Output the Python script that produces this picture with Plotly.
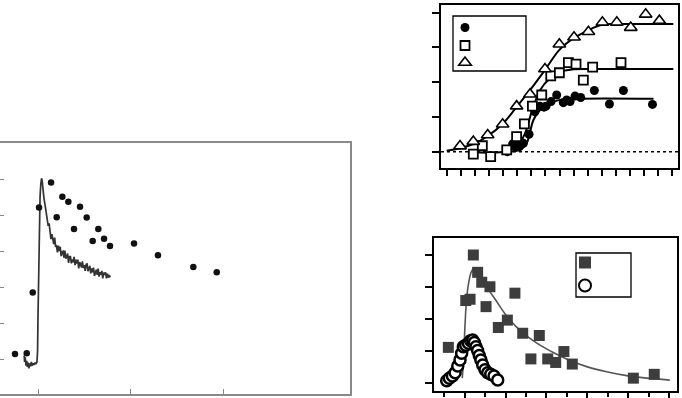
import plotly.graph_objects as go

# ---------------- Panel A (left): dots + noisy trace ----------------
a_dot_x = [-2.49, -1.22, -0.57, 0.11, 1.41, 2.02, 2.63, 3.28, 3.89, 4.54, 5.26,
           5.91, 6.52, 7.14, 7.78, 10.38, 12.97, 16.79, 19.32]
a_dot_y = [0.14, 0.16, 1.85, 4.21, 4.90, 3.94, 4.51, 4.37, 3.61, 4.23, 3.93,
           3.28, 3.61, 3.34, 3.14, 3.21, 2.88, 2.56, 2.41]

a_trace_x = [-1.50, -1.45, -1.38, -1.30, -1.22, -1.15, -1.05, -0.98, -0.90, -0.80,
             -0.72, -0.62, -0.52, -0.42, -0.32, -0.22, -0.12, -0.05, 0.00, 0.08,
             0.15, 0.22, 0.30, 0.38, 0.45, 0.55, 0.65, 0.75, 0.85, 0.92,
             1.0, 1.1, 1.2, 1.3, 1.4, 1.5, 1.6, 1.7, 1.8, 1.9,
             2.0, 2.1, 2.2, 2.3, 2.4, 2.5, 2.6, 2.7, 2.8, 2.9,
             3.0, 3.1, 3.2, 3.3, 3.4, 3.5, 3.6, 3.7, 3.8, 3.9,
             4.0, 4.1, 4.2, 4.3, 4.4, 4.5, 4.6, 4.7, 4.8, 4.9,
             5.0, 5.1, 5.2, 5.3, 5.4, 5.5, 5.6, 5.7, 5.8, 5.9,
             6.0, 6.1, 6.2, 6.3, 6.4, 6.5, 6.6, 6.7, 6.8, 6.9,
             7.0, 7.1, 7.2, 7.3, 7.4, 7.5, 7.6, 7.7, 7.8]
a_trace_y = [0.10, -0.08, 0.05, -0.18, -0.05, -0.22, -0.10, -0.26, -0.12, -0.20,
             -0.08, -0.18, -0.12, -0.16, -0.10, -0.14, -0.08, 0.20, 1.20, 2.60,
             3.80, 4.50, 4.85, 5.02, 4.95, 4.65, 4.45, 4.30, 4.12, 4.02,
             3.97, 3.70, 3.77, 3.55, 3.33, 3.47, 3.37, 3.19, 3.37, 3.12,
             3.14, 2.96, 3.15, 3.00, 3.12, 2.86, 2.97, 2.99, 2.82, 3.01,
             2.79, 2.83, 2.93, 2.67, 2.84, 2.86, 2.66, 2.77, 2.69, 2.84,
             2.61, 2.76, 2.65, 2.76, 2.52, 2.69, 2.64, 2.54, 2.71, 2.53,
             2.61, 2.45, 2.63, 2.64, 2.44, 2.50, 2.59, 2.38, 2.52, 2.41,
             2.54, 2.31, 2.45, 2.48, 2.34, 2.51, 2.29, 2.41, 2.34, 2.45,
             2.24, 2.40, 2.34, 2.41, 2.24, 2.37, 2.26, 2.33, 2.27]
a_xticks = [0, 10, 20]
a_yticks = [0, 1, 2, 3, 4, 5]

# ---------------- Panel B (top right): three sigmoid series ----------------
b_circ_x = [4.30, 4.68, 4.85, 5.15, 5.20, 5.44, 5.84, 6.26, 6.62, 6.90, 7.04, 7.40,
            7.80, 8.27, 8.51, 8.75, 9.10, 9.50, 10.47, 11.54, 12.53, 14.59]
b_circ_y = [0.00, 0.22, 0.14, 0.14, 0.29, 0.24, 0.50, 1.15, 1.31, 1.28, 1.31, 1.44,
            1.63, 1.41, 1.49, 1.44, 1.60, 1.56, 1.76, 1.37, 1.76, 1.36]
b_sq_x = [1.89, 2.53, 3.12, 4.26, 4.96, 5.51, 6.08, 6.74, 7.38, 7.99, 8.63, 9.17,
          9.69, 10.35, 12.36]
b_sq_y = [-0.07, 0.17, -0.14, 0.05, 0.43, 0.80, 1.31, 1.63, 2.18, 2.27, 2.56, 2.52,
          2.06, 2.43, 2.56]
b_tri_x = [0.95, 1.89, 2.91, 3.97, 4.96, 5.91, 6.97, 7.99, 9.03, 10.05, 11.04, 12.06,
           13.05, 14.11, 15.08]
b_tri_y = [0.16, 0.29, 0.48, 0.79, 1.31, 1.65, 2.38, 3.09, 3.29, 3.45, 3.72, 3.72,
           3.57, 3.95, 3.77]

b_fit_tri_x = [0.00, 0.95, 1.89, 2.84, 4.02, 4.96, 5.91, 6.97, 7.99, 8.98, 9.93, 10.99, 12.29, 16.07]
b_fit_tri_y = [0.03, 0.10, 0.22, 0.43, 0.82, 1.29, 1.77, 2.35, 2.93, 3.26, 3.47, 3.65, 3.67, 3.67]
b_fit_sq_x = [1.89, 4.02, 4.96, 5.56, 6.03, 6.62, 7.33, 8.04, 8.98, 10.40, 16.07]
b_fit_sq_y = [-0.02, 0.00, 0.14, 0.53, 1.15, 1.77, 2.11, 2.30, 2.37, 2.38, 2.38]
b_fit_circ_x = [4.14, 5.20, 5.67, 6.15, 6.62, 7.33, 8.04, 9.22, 14.66]
b_fit_circ_y = [0.00, 0.05, 0.24, 0.91, 1.20, 1.39, 1.49, 1.52, 1.52]
b_xticks = list(range(0, 17))
b_yticks = [0, 1, 2, 3, 4]

# ---------------- Panel C (bottom right): peak series ----------------
c_sq_x = [0.21, 1.06, 1.27, 1.43, 1.64, 1.84, 2.24, 2.05, 2.65, 3.09, 3.46, 3.84,
          4.24, 4.65, 5.06, 5.45, 5.85, 6.26, 9.24, 10.26]
c_sq_y = [1.12, 2.58, 2.62, 4.00, 3.46, 3.15, 3.01, 2.39, 1.74, 1.97, 2.81, 1.56,
          0.76, 1.49, 0.76, 0.65, 0.99, 0.60, 0.16, 0.28]
c_circ_x = [0.13, 0.26, 0.41, 0.54, 0.67, 0.78, 0.86, 0.94, 1.06, 1.19, 1.30, 1.40,
            1.48, 1.56, 1.64, 1.72, 1.80, 1.89, 2.00, 2.13, 2.28, 2.44, 2.62]
c_circ_y = [0.08, 0.16, 0.23, 0.33, 0.54, 0.73, 0.94, 1.14, 1.19, 1.25, 1.33, 1.35,
            1.27, 1.14, 1.02, 0.87, 0.73, 0.57, 0.42, 0.33, 0.28, 0.23, 0.10]
c_fit_x = [0.89, 0.96, 1.02, 1.11, 1.22, 1.30, 1.38, 1.48, 1.58, 1.70, 1.84, 2.16,
           2.57, 3.02, 3.54, 4.03, 4.68, 5.33, 6.15, 6.96, 7.93, 8.91, 9.89, 11.02]
c_fit_y = [0.16, 0.83, 1.77, 2.70, 3.20, 3.42, 3.53, 3.58, 3.55, 3.45, 3.27, 2.93,
           2.55, 2.13, 1.75, 1.48, 1.19, 0.96, 0.71, 0.52, 0.36, 0.24, 0.16, 0.10]
c_xticks_major = [1, 3, 5, 7, 9, 11]
c_yticks = [0, 1, 2, 3, 4]

W, H = 682, 398

def px_x(a, b):
    return [a / W, b / W]

def px_y(top, bottom):
    return [1 - bottom / H, 1 - top / H]

fig = go.Figure()

# Panel A
fig.add_trace(go.Scatter(x=a_trace_x, y=a_trace_y, mode="lines",
                         line=dict(color="#333333", width=1.7), showlegend=False,
                         xaxis="x", yaxis="y"))
fig.add_trace(go.Scatter(x=a_dot_x, y=a_dot_y, mode="markers",
                         marker=dict(color="#111111", size=6.5), showlegend=False,
                         xaxis="x", yaxis="y"))

# Panel B fits
for fx, fy in [(b_fit_tri_x, b_fit_tri_y), (b_fit_sq_x, b_fit_sq_y), (b_fit_circ_x, b_fit_circ_y)]:
    fig.add_trace(go.Scatter(x=fx, y=fy, mode="lines", line=dict(color="black", width=2),
                             line_shape="spline", showlegend=False, xaxis="x2", yaxis="y2"))
fig.add_trace(go.Scatter(x=b_circ_x, y=b_circ_y, mode="markers", name=" ",
                         marker=dict(symbol="circle", color="black", size=9),
                         xaxis="x2", yaxis="y2", legend="legend"))
fig.add_trace(go.Scatter(x=b_sq_x, y=b_sq_y, mode="markers", name=" ",
                         marker=dict(symbol="square", color="white", size=9,
                                     line=dict(color="black", width=1.8)),
                         xaxis="x2", yaxis="y2", legend="legend2"))
fig.add_trace(go.Scatter(x=b_tri_x, y=b_tri_y, mode="markers", name=" ",
                         marker=dict(symbol="triangle-up", color="white", size=11,
                                     line=dict(color="black", width=1.6)),
                         xaxis="x2", yaxis="y2", legend="legend3"))

# Panel C
fig.add_trace(go.Scatter(x=c_fit_x, y=c_fit_y, mode="lines", line=dict(color="#555555", width=1.6),
                         line_shape="spline", showlegend=False, xaxis="x3", yaxis="y3"))
fig.add_trace(go.Scatter(x=c_sq_x, y=c_sq_y, mode="markers", name=" ",
                         marker=dict(symbol="square", color="#3d3d3d", size=11),
                         xaxis="x3", yaxis="y3", legend="legend4"))
fig.add_trace(go.Scatter(x=c_circ_x, y=c_circ_y, mode="markers", name=" ",
                         marker=dict(symbol="circle", color="white", size=11,
                                     line=dict(color="black", width=2.5)),
                         xaxis="x3", yaxis="y3", legend="legend5"))

common = dict(showgrid=False, zeroline=False, showticklabels=False, showline=True, mirror=True)

# legend marker centres (px) -> legend anchor (marker sits ~21px right, ~15px below anchor)
def leg(cx, cy, sizing="trace"):
    return dict(x=(cx - 21) / W, y=1 - (cy - 15) / H, xanchor="left", yanchor="top",
                bgcolor="rgba(0,0,0,0)", borderwidth=0, itemsizing=sizing,
                font=dict(size=9, color="black"))

fig.update_layout(
    width=W, height=H, margin=dict(l=0, r=0, t=0, b=0),
    paper_bgcolor="white", plot_bgcolor="white",
    xaxis=dict(domain=px_x(0, 350), range=[-4.11, 33.73], tickvals=a_xticks, ticks="inside",
               ticklen=5, tickcolor="#888888", linecolor="#8a8a8a", linewidth=1.5, anchor="y", **common),
    yaxis=dict(domain=px_y(143, 394), range=[-0.97, 6.0], tickvals=a_yticks, ticks="inside",
               ticklen=4, tickcolor="#888888", linecolor="#8a8a8a", linewidth=1.5, anchor="x", **common),
    xaxis2=dict(domain=px_x(441, 678), range=[-0.4, 16.4], tickvals=b_xticks, ticks="outside",
                ticklen=6, tickwidth=1.5, tickcolor="black", linecolor="black", linewidth=1.6,
                anchor="y2", **common),
    yaxis2=dict(domain=px_y(5, 168), range=[-0.47, 4.22], tickvals=b_yticks, ticks="outside",
                ticklen=7, tickwidth=1.5, tickcolor="black", linecolor="black", linewidth=1.6,
                anchor="x2", **common),
    xaxis3=dict(domain=px_x(434, 677), range=[-0.49, 11.37], tickvals=c_xticks_major, ticks="outside",
                ticklen=6, tickwidth=1.5, tickcolor="black", linecolor="black", linewidth=1.6,
                minor=dict(dtick=1, tick0=0, ticks="outside", ticklen=4, tickwidth=1.5, tickcolor="black"),
                anchor="y3", **common),
    yaxis3=dict(domain=px_y(238, 391), range=[-0.24, 4.53], tickvals=c_yticks, ticks="outside",
                ticklen=7, tickwidth=1.5, tickcolor="black", linecolor="black", linewidth=1.6,
                anchor="x3", **common),
    legend=leg(466, 28),
    legend2=leg(466, 46),
    legend3=leg(466, 63),
    legend4=leg(586, 263, "constant"),
    legend5=leg(586, 286, "constant"),
    shapes=[
        dict(type="line", xref="x2 domain", yref="y2", x0=0, x1=1, y0=0, y1=0,
             line=dict(color="black", width=1.5, dash="3px,3px"), layer="below"),
        # legend frames
        dict(type="rect", xref="paper", yref="paper", x0=453 / W, x1=526 / W,
             y0=1 - 71 / H, y1=1 - 16 / H, line=dict(color="black", width=1.3),
             fillcolor="white", layer="below"),
        dict(type="rect", xref="paper", yref="paper", x0=576 / W, x1=631 / W,
             y0=1 - 297 / H, y1=1 - 253 / H, line=dict(color="black", width=1.3),
             fillcolor="white", layer="below"),
    ],
)

fig.write_html("out.html", config={"displayModeBar": False},
               post_script="document.body.style.margin='0';document.body.style.overflow='hidden';")
